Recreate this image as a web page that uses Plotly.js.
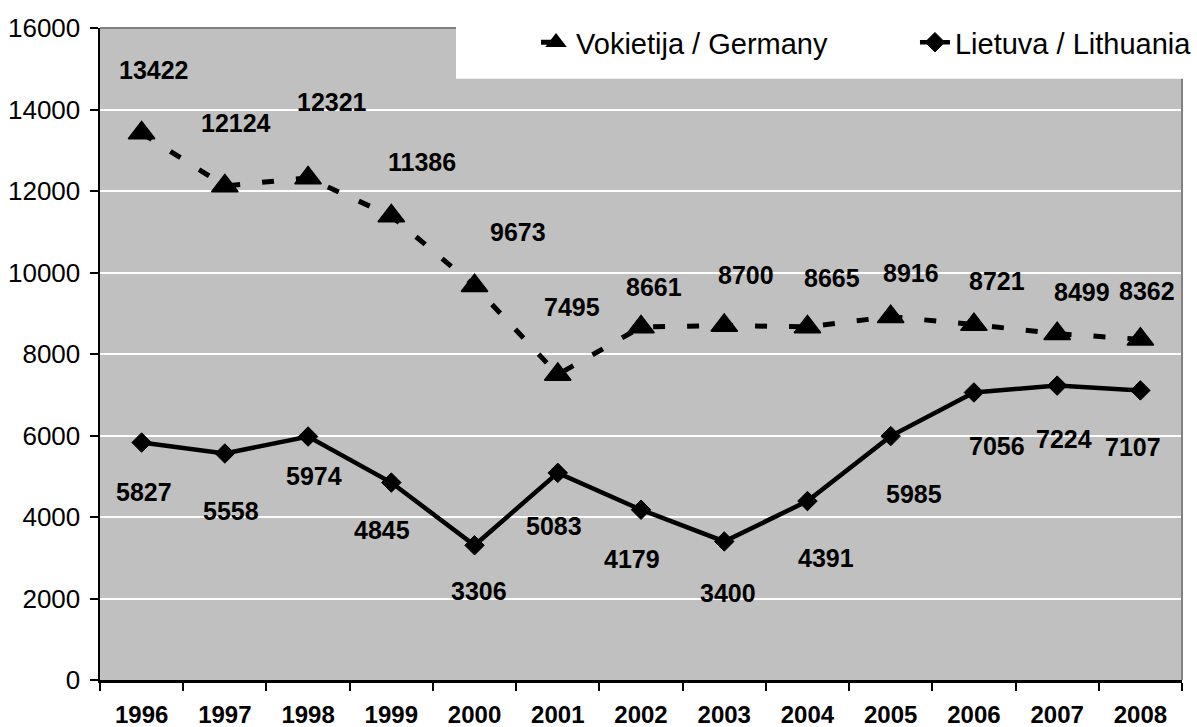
<!DOCTYPE html>
<html>
<head>
<meta charset="utf-8">
<script src="https://cdn.plot.ly/plotly-3.0.1.min.js"></script>
<style>
  html, body { margin: 0; padding: 0; background: #ffffff; }
  #chart { width: 1197px; height: 727px; }
</style>
</head>
<body>
<div id="chart"></div>
<script>
// ---- data ----
const years = ['1996','1997','1998','1999','2000','2001','2002','2003','2004','2005','2006','2007','2008'];
const germany = [13422, 12124, 12321, 11386, 9673, 7495, 8661, 8700, 8665, 8916, 8721, 8499, 8362];
const lithuania = [5827, 5558, 5974, 4845, 3306, 5083, 4179, 3400, 4391, 5985, 7056, 7224, 7107];
const germanyName = 'Vokietija / Germany';
const lithuaniaName = 'Lietuva / Lithuania';
const yTicks = [0, 2000, 4000, 6000, 8000, 10000, 12000, 14000, 16000];

// ---- label placement (pixel shifts, style only) ----
const germanyShiftX = [12, 11, 24, 31, 43, 14, 13, 22, 25, 20, 23, 25, 7];
const germanyShiftY = [63, 63, 76, 54, 54, 68, 40, 50, 49, 44, 44, 42, 48];
const lithShiftX = [2, 6, 6, -9, 4, -4, -9, 4, 19, 23, 23, 7, -7];
const lithShiftY = [-49, -57, -39, -47, -46, -53, -49, -52, -57, -58, -54, -53, -57];

const FONT = 'Liberation Sans, Arial, Helvetica, sans-serif';

const traces = [
  {
    x: years, y: germany, name: germanyName, type: 'scatter', mode: 'lines+markers',
    line: { color: '#000000', width: 5, dash: '12px,22px' },
    marker: { symbol: 'triangle-up', size: 23, color: '#000000', line: { color: '#000000', width: 1.5 } },
    hoverinfo: 'skip', legend: 'legend'
  },
  {
    x: years, y: lithuania, name: lithuaniaName, type: 'scatter', mode: 'lines+markers',
    line: { color: '#000000', width: 4.5 },
    marker: { symbol: 'diamond', size: 15, color: '#000000', line: { color: '#000000', width: 1 } },
    hoverinfo: 'skip', legend: 'legend2'
  }
];

const annotations = [];
years.forEach((yr, i) => {
  annotations.push({
    x: i, y: germany[i], xref: 'x', yref: 'y', text: String(germany[i]), showarrow: false,
    xanchor: 'center', yanchor: 'middle', xshift: germanyShiftX[i], yshift: germanyShiftY[i],
    font: { family: FONT, size: 25, color: '#000000', weight: 700 }
  });
  annotations.push({
    x: i, y: lithuania[i], xref: 'x', yref: 'y', text: String(lithuania[i]), showarrow: false,
    xanchor: 'center', yanchor: 'middle', xshift: lithShiftX[i], yshift: lithShiftY[i],
    font: { family: FONT, size: 25, color: '#000000', weight: 700 }
  });
});

const legendFont = { family: FONT, size: 29, color: '#000000' };

const layout = {
  width: 1197, height: 727,
  margin: { l: 100, r: 15, t: 28, b: 47, pad: 0, autoexpand: false },
  paper_bgcolor: '#ffffff',
  plot_bgcolor: '#c0c0c0',
  font: { family: FONT, color: '#000000' },
  showlegend: true,
  legend: {
    orientation: 'h', x: 0.4030, xanchor: 'left', y: 0.978, yanchor: 'middle',
    bgcolor: 'rgba(0,0,0,0)', borderwidth: 0, font: legendFont,
    itemclick: false, itemdoubleclick: false
  },
  legend2: {
    orientation: 'h', x: 0.7532, xanchor: 'left', y: 0.978, yanchor: 'middle',
    bgcolor: 'rgba(0,0,0,0)', borderwidth: 0, font: legendFont,
    itemclick: false, itemdoubleclick: false
  },
  xaxis: {
    type: 'category', range: [-0.5, 12.5], autorange: false,
    tickson: 'boundaries', ticks: 'outside', ticklen: 8, tickwidth: 2, tickcolor: '#000000',
    showline: true, linecolor: '#000000', linewidth: 2.5, showgrid: false, zeroline: false,
    tickfont: { family: FONT, size: 24, color: '#000000', weight: 700 },
    tickangle: 0, ticklabelstandoff: 12, fixedrange: true, automargin: false
  },
  yaxis: {
    range: [0, 16000], autorange: false, tickvals: yTicks, ticktext: yTicks.map(String),
    ticks: 'outside', ticklen: 8, tickwidth: 2, tickcolor: '#000000',
    showline: true, linecolor: '#000000', linewidth: 2.5,
    showgrid: true, gridcolor: '#ffffff', gridwidth: 2, zeroline: false,
    tickfont: { family: FONT, size: 26, color: '#000000' },
    ticklabelstandoff: 4, fixedrange: true, automargin: false
  },
  shapes: [
    { type: 'line', xref: 'paper', yref: 'paper', x0: 0, x1: 1, y0: 1, y1: 1, line: { color: '#808080', width: 2 }, layer: 'above' },
    { type: 'line', xref: 'paper', yref: 'paper', x0: 1, x1: 1, y0: 0, y1: 1, line: { color: '#808080', width: 2 }, layer: 'above' },
    { type: 'rect', xref: 'paper', yref: 'paper', x0: 0.3290, x1: 1.02, y0: 0.922, y1: 1.1, fillcolor: '#ffffff', line: { width: 0 }, layer: 'above' }
  ],
  annotations: annotations
};

Plotly.newPlot('chart', traces, layout, { staticPlot: true, displayModeBar: false });
</script>
</body>
</html>
